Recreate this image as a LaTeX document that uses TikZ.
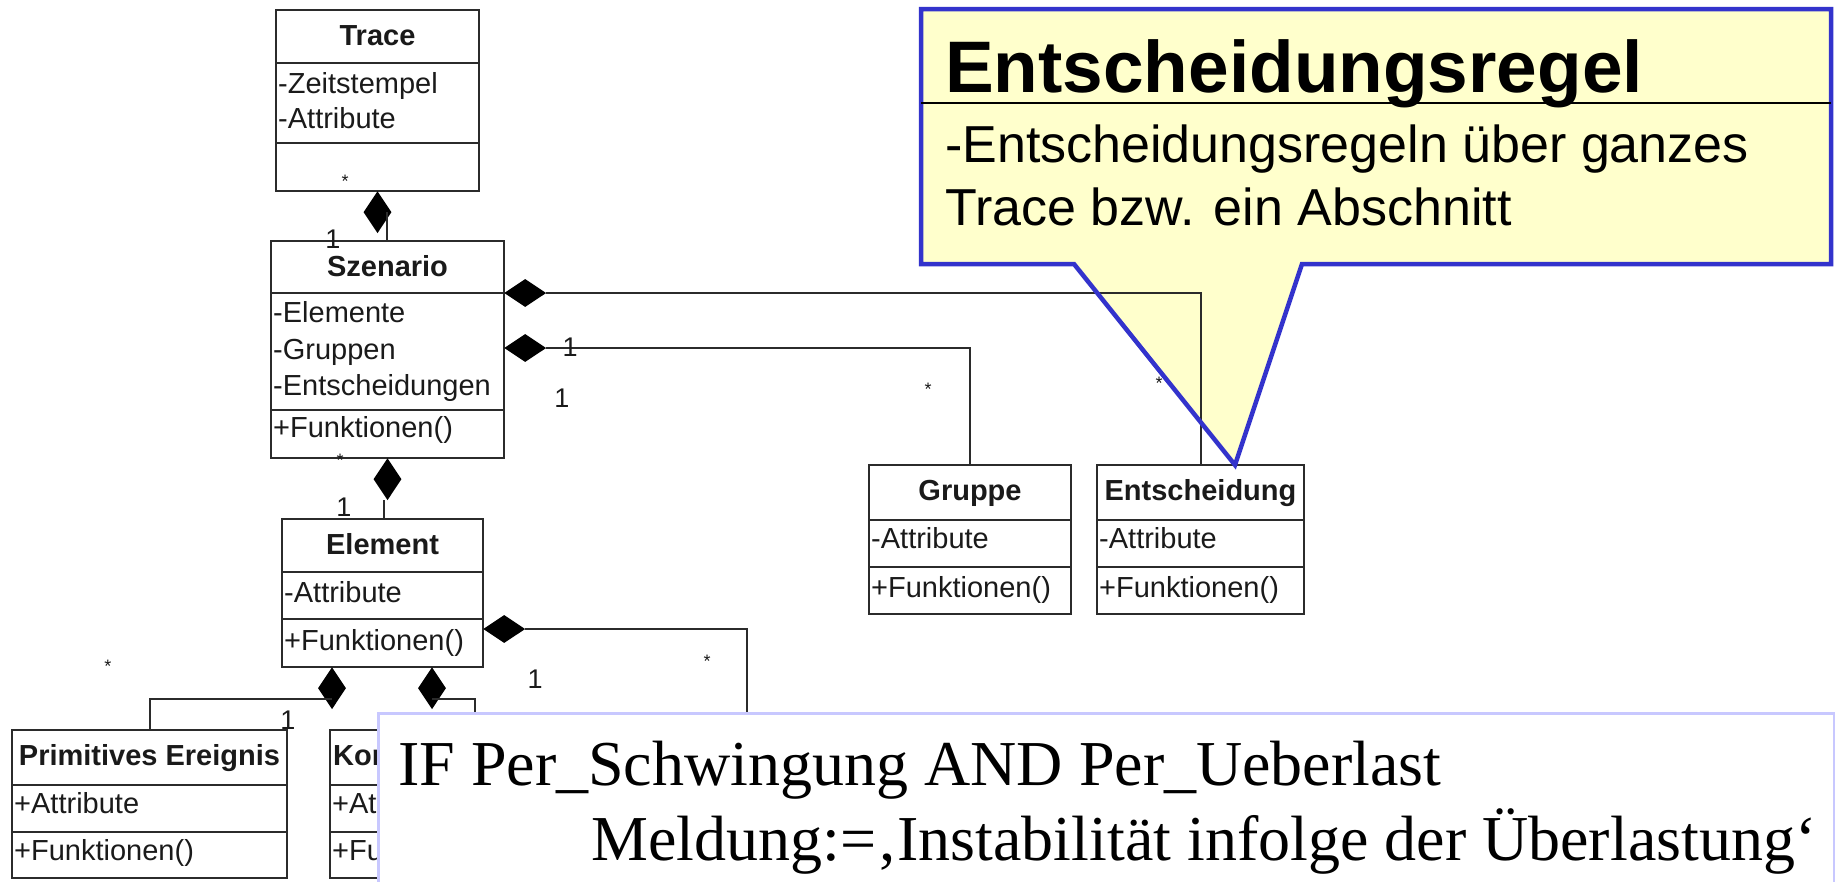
\documentclass[tikz,border=0pt]{standalone}
\usepackage{fontspec}
\setmainfont{Liberation Sans}
\newfontfamily\codeface{Liberation Serif}
\usetikzlibrary{shapes.geometric,calc}

\definecolor{umlline}{HTML}{2B2B2B}
\definecolor{umltext}{HTML}{1A1A1A}
\definecolor{noteyellow}{HTML}{FFFFCC}
\definecolor{noteblue}{HTML}{3333CC}
\definecolor{codeframe}{HTML}{C8C8FF}

% class frame with two compartment dividers
\newcommand\umlframe[7]{%
  \node[classbox, minimum width={#4-#2}, minimum height={#5-#3}] (#1) at (#2,#3) {};
  \draw[divider] (#2,#6) -- (#4,#6);
  \draw[divider] (#2,#7) -- (#4,#7);
}
% class frame plus a centred bold title
\newcommand\umlbox[8]{%
  \umlframe{#1}{#2}{#3}{#4}{#5}{#6}{#7}
  \node[classtitle] (#1-title) at ({(#2+#4)/2},#3+35) {#8};
}
% one attribute / operation line, placed by its baseline
\newcommand\umlentry[4]{\node[classentry] (#1) at (#2,#3) {#4};}

% outline of the speech-bubble note
\newcommand\notepath{(921,9) -- (1831,9) -- (1831,264) -- (1302,264) -- (1235,465) -- (1074,264) -- (921,264) -- cycle}

\begin{document}
\begin{tikzpicture}[x=1pt,y=-1pt,
  classbox/.style={draw=umlline, line width=2.4pt, fill=white, inner sep=0pt, outer sep=0pt, anchor=north west},
  divider/.style={draw=umlline, line width=2.4pt},
  classtitle/.style={anchor=base, inner sep=0pt, text=umltext, font=\fontsize{29}{34}\selectfont\bfseries},
  classentry/.style={anchor=base west, inner sep=0pt, text=umltext, font=\fontsize{29}{34}\selectfont},
  conn/.style={draw=umlline, line width=2pt},
  dvert/.style={diamond, fill=black, draw=none, inner sep=0pt, minimum width=28pt, minimum height=42pt},
  dhorz/.style={diamond, fill=black, draw=none, inner sep=0pt, minimum width=42pt, minimum height=28pt},
  mult/.style={inner sep=0pt, text=umltext, font=\fontsize{27}{30}\selectfont},
  star/.style={inner sep=0pt, text=umltext, font=\fontsize{18}{20}\selectfont},
  notetitle/.style={anchor=base west, inner sep=0pt, font=\fontsize{73}{80}\selectfont\bfseries},
  notebody/.style={anchor=base west, inner sep=0pt, font=\fontsize{52}{60}\selectfont},
  codetext/.style={anchor=base west, inner sep=0pt, font=\codeface\fontsize{64}{70}\selectfont},
]
\useasboundingbox (0,0) rectangle (1835,881);
\clip (0,0) rectangle (1835,881);
\fill[white] (0,0) rectangle (1835,881);

% note background (its outline is drawn over the diagram later)
\fill[noteyellow] \notepath;

% classes
\umlbox{trace}{276}{10}{479}{191}{63}{143}{Trace}
\umlentry{trace-a1}{278}{93}{-Zeitstempel}
\umlentry{trace-a2}{278}{128}{-Attribute}

\umlbox{szen}{271}{241}{504}{458}{293}{410}{Szenario}
\umlentry{szen-a1}{273}{322}{-Elemente}
\umlentry{szen-a2}{273}{359}{-Gruppen}
\umlentry{szen-a3}{273}{395}{-Entscheidungen}
\umlentry{szen-o1}{273}{437}{+Funktionen()}

\umlbox{elem}{282}{519}{483}{667}{572}{619}{Element}
\umlentry{elem-a1}{284}{602}{-Attribute}
\umlentry{elem-o1}{284}{650}{+Funktionen()}

\umlbox{prim}{12}{730}{287}{878}{785}{832}{Primitives Ereignis}
\umlentry{prim-a1}{14}{813}{+Attribute}
\umlentry{prim-o1}{14}{860}{+Funktionen()}

% second leaf class, mostly hidden behind the rule panel
\umlframe{komp}{330}{730}{619}{878}{785}{832}
\node[classtitle, anchor=base west] (komp-title) at (333,765) {Kom};
\umlentry{komp-a1}{332}{813}{+Att}
\umlentry{komp-o1}{332}{860}{+Fun}

\umlbox{gruppe}{869}{465}{1071}{614}{520}{567}{Gruppe}
\umlentry{gruppe-a1}{871}{548}{-Attribute}
\umlentry{gruppe-o1}{871}{597}{+Funktionen()}

\umlbox{entsch}{1097}{465}{1304}{614}{520}{567}{Entscheidung}
\umlentry{entsch-a1}{1099}{548}{-Attribute}
\umlentry{entsch-o1}{1099}{597}{+Funktionen()}

% composition diamonds
\node[dvert, anchor=north] (d1) at (trace.south) {};
\node[dvert, anchor=north] (d2) at (szen.south) {};
\node[dhorz, anchor=west] (d3) at ($(szen.north east)+(0,52)$) {};
\node[dhorz, anchor=west] (d4) at ($(szen.north east)+(0,107)$) {};
\node[dhorz, anchor=west] (d5) at ($(elem.north east)+(0,110)$) {};
\node[dvert, anchor=north] (d6) at ($(elem.south west)+(50,0)$) {};
\node[dvert, anchor=north] (d7) at ($(elem.south west)+(150,0)$) {};
\coordinate (k5) at (747,760);

% composition lines
\draw[conn] ([xshift=9pt]d1.center) -- ([xshift=9pt]d1.center |- szen.north);
\draw[conn] ([xshift=-4pt]d2.south) -- ([xshift=-4pt]d2.south |- elem.north);
\draw[conn] (d3.east) -| (entsch.north);
\draw[conn] (d4.east) -| (gruppe.north);
\draw[conn] (d5.east) -| (k5);
\draw[conn] ([yshift=-11pt]d6.center) -| (prim.north);
\draw[conn] ([yshift=-11pt]d7.center) -| (komp.north);

% multiplicities
\node[star] (m1) at (345,181) {*};
\node[mult] (m2) at (333,239) {1};
\node[mult] (m3) at (570,347) {1};
\node[mult] (m4) at (562,398) {1};
\node[star] (m5) at (340,460) {*};
\node[mult] (m6) at (344,507) {1};
\node[star] (m7) at (928,389) {*};
\node[star] (m8) at (1159,383) {*};
\node[mult] (m9) at (535,679) {1};
\node[star] (m10) at (707,661) {*};
\node[star] (m11) at (108,666) {*};
\node[mult] (m12) at (288,720) {1};
\node[mult] (m13) at (388,724) {1};

% note outline and text
\draw[noteblue, line width=4.5pt, line join=miter] \notepath;
\draw[black, line width=1.6pt] (921,103) -- (1831,103);
\node[notetitle] (note-title) at (945,92) {Entscheidungsregel};
\node[notebody] (note-l1) at (945,162) {-Entscheidungsregeln über ganzes};
\node[notebody] (note-l2) at (945,225) {Trace bzw. ein Abschnitt};

% rule text panel
\node[draw=codeframe, line width=2.5pt, fill=white, anchor=north west, inner sep=0pt,
      minimum width=1456pt, minimum height=200pt] (code) at (377,712) {};
\node[codetext] (code-l1) at (398,785) {IF Per\_Schwingung AND Per\_Ueberlast};
\node[codetext] (code-l2) at (591,860) {Meldung:=‚Instabilität infolge der Überlastung‘};
\end{tikzpicture}
\end{document}
